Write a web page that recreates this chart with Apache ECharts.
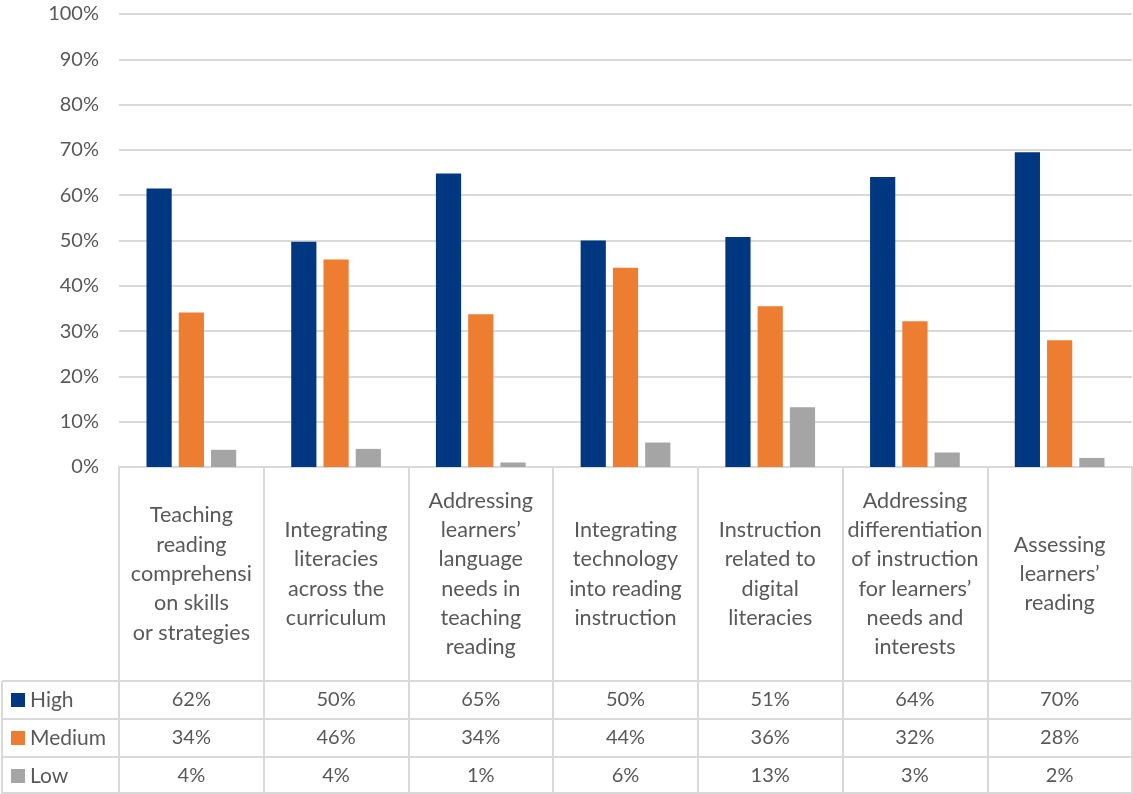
<!DOCTYPE html>
<html><head><meta charset="utf-8">
<script src="https://cdn.jsdelivr.net/npm/echarts@6/dist/echarts.min.js"></script>
<style>html,body{margin:0;padding:0;background:#fff}#c{width:1133px;height:794px}</style>
</head><body><div id="c"></div>
<script>
const categories = [
  "Teaching\nreading\ncomprehensi\non skills\nor strategies",
  "Integrating\nliteracies\nacross the\ncurriculum",
  "Addressing\nlearners’\nlanguage\nneeds in\nteaching\nreading",
  "Integrating\ntechnology\ninto reading\ninstruction",
  "Instruction\nrelated to\ndigital\nliteracies",
  "Addressing\ndifferentiation\nof instruction\nfor learners’\nneeds and\ninterests",
  "Assessing\nlearners’\nreading"
];
const seriesNames = ["High", "Medium", "Low"];
const high = [61.5, 49.7, 64.8, 50.0, 50.8, 64.0, 69.5];
const medium = [34.1, 45.8, 33.7, 44.0, 35.5, 32.2, 28.0];
const low = [3.8, 4.0, 1.0, 5.4, 13.2, 3.2, 2.0];
const highLabels = ["62%", "50%", "65%", "50%", "51%", "64%", "70%"];
const mediumLabels = ["34%", "46%", "34%", "44%", "36%", "32%", "28%"];
const lowLabels = ["4%", "4%", "1%", "6%", "13%", "3%", "2%"];
const yTicks = [0, 10, 20, 30, 40, 50, 60, 70, 80, 90, 100];

const colors = ["#003781", "#ED7D31", "#A5A5A5"];
const textColor = "#595959";
const lineColor = "#D9D9D9";
const FONT = "Lato";
const FS = 20;
const FS_CAT = 21.6;
const FS_LEG = 21;

const chart = echarts.init(document.getElementById('c'), null, {renderer: 'canvas'});

function tableAxis(offset, labels, tickLen) {
  return {
    type: 'category', data: categories, position: 'bottom', offset: offset,
    axisLine: {show: true, lineStyle: {color: lineColor, width: 2}},
    axisTick: {show: true, length: tickLen, lineStyle: {color: lineColor, width: 2}},
    axisLabel: {
      show: true, interval: 0, margin: tickLen / 2, verticalAlign: 'middle',
      color: textColor, fontFamily: FONT, fontSize: FS,
      formatter: (v, i) => labels[i]
    },
    splitLine: {show: false}
  };
}

function legendFor(name, top) {
  return {
    orient: 'vertical', left: 11, top: top, padding: 0,
    itemWidth: 14, itemHeight: 14, icon: 'rect',
    textStyle: {color: textColor, fontFamily: FONT, fontSize: FS_LEG, lineHeight: 22, padding: [0, 0, 0, 0]},
    itemStyle: {borderWidth: 0},
    selectedMode: false,
    data: [name]
  };
}

const option = {
  backgroundColor: '#fff',
  animation: false,
  color: colors,
  grid: {left: 119, right: 1, top: 14, bottom: 327, containLabel: false},
  legend: [legendFor(seriesNames[0], 689), legendFor(seriesNames[1], 727), legendFor(seriesNames[2], 765)],
  xAxis: [
    {
      type: 'category', data: categories, position: 'bottom',
      axisLine: {show: true, lineStyle: {color: lineColor, width: 2}},
      axisTick: {show: true, length: 214, lineStyle: {color: lineColor, width: 2}},
      axisLabel: {
        interval: 0, margin: 107, verticalAlign: 'middle', align: 'center',
        color: textColor, fontFamily: FONT, fontSize: FS_CAT, lineHeight: 29.3
      }
    },
    tableAxis(214, highLabels, 38),
    tableAxis(252, mediumLabels, 38),
    tableAxis(290, lowLabels, 38),
    {
      type: 'category', data: categories, position: 'bottom', offset: 326,
      axisLine: {show: true, lineStyle: {color: lineColor, width: 2}},
      axisTick: {show: false}, axisLabel: {show: false}
    }
  ],
  yAxis: {
    type: 'value', min: 0, max: 100, interval: 10,
    axisLine: {show: false}, axisTick: {show: false},
    axisLabel: {
      margin: 20, color: textColor, fontFamily: FONT, fontSize: FS,
      formatter: v => (yTicks.includes(v) ? v + '%' : '')
    },
    splitLine: {lineStyle: {color: lineColor, width: 2}}
  },
  series: [
    {name: seriesNames[0], type: 'bar', data: high, barGap: '28%', barCategoryGap: '38%'},
    {name: seriesNames[1], type: 'bar', data: medium, barGap: '28%', barCategoryGap: '38%'},
    {name: seriesNames[2], type: 'bar', data: low, barGap: '28%', barCategoryGap: '38%'}
  ],
  graphic: [
    {type: 'line', shape: {x1: 2, y1: 681, x2: 119, y2: 681}, style: {stroke: lineColor, lineWidth: 2}},
    {type: 'line', shape: {x1: 2, y1: 719, x2: 119, y2: 719}, style: {stroke: lineColor, lineWidth: 2}},
    {type: 'line', shape: {x1: 2, y1: 757, x2: 119, y2: 757}, style: {stroke: lineColor, lineWidth: 2}},
    {type: 'line', shape: {x1: 2, y1: 793, x2: 119, y2: 793}, style: {stroke: lineColor, lineWidth: 2}},
    {type: 'line', shape: {x1: 2, y1: 681, x2: 2, y2: 794}, style: {stroke: lineColor, lineWidth: 2}}
  ]
};
chart.setOption(option);
</script>
</body></html>
